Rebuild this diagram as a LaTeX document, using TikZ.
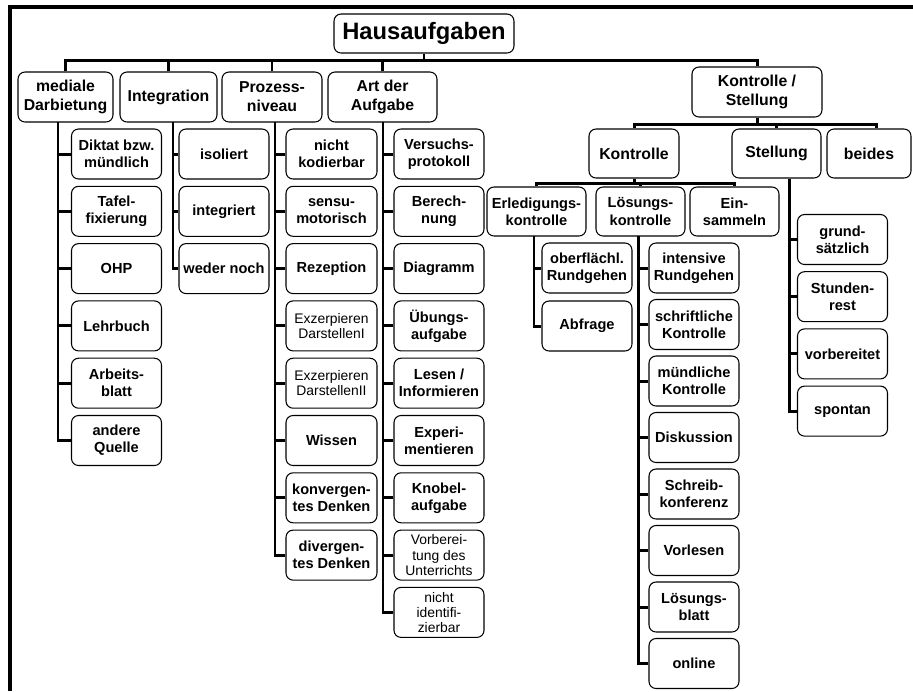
\documentclass[tikz,border=0pt]{standalone}
\usepackage{fontspec}
\setmainfont{Liberation Sans}
\tikzset{
  box/.style={draw, rounded corners=4pt, line width=0.6pt, align=center, inner sep=1pt, minimum height=1cm},
  head/.style={box, font={\fontsize{9}{10.8}\selectfont\bfseries}},
  leaf/.style={box, minimum width=1.8cm, font={\fontsize{8.3}{9.7}\selectfont\bfseries}},
  leafthin/.style={box, minimum width=1.8cm, font={\fontsize{7.9}{8.6}\selectfont}},
  conn/.style={line width=1.7pt},
}
\begin{document}
\begin{tikzpicture}[x=0.02cm, y=-0.02cm]
  \useasboundingbox (0,0) rectangle (913,691);
  % Rahmen
  \draw[line width=2pt] (10,691) -- (10,7) -- (913,7);
  % Wurzel
  \node[box, minimum width=3.6cm, minimum height=0.78cm, font={\fontsize{13.5}{16}\selectfont\bfseries}] (root) at (424,33.5) {Hausaufgaben};
  % erste Ebene
  \node[head, minimum width=1.9cm] (med) at (65.5,97) {mediale\\Darbietung};
  \node[head, minimum width=1.94cm] (integ) at (168.5,97) {Integration};
  \node[head, minimum width=2cm] (proz) at (272,97) {Prozess-\\niveau};
  \node[head, minimum width=2.18cm] (art) at (382.5,97) {Art der\\Aufgabe};
  \node[head, minimum width=2.6cm] (kst) at (757,92) {Kontrolle /\\Stellung};
  % zweite Ebene
  \node[head, minimum width=1.8cm, minimum height=0.98cm] (kon) at (634,153.5) {Kontrolle};
  \node[head, minimum width=1.78cm, minimum height=0.98cm] (stel) at (776.5,153.5) {Stellung};
  \node[head, minimum width=1.68cm, minimum height=0.98cm] (beid) at (869,153.5) {beides};
  % dritte Ebene
  \node[leaf, minimum width=1.98cm, minimum height=0.98cm] (erl) at (536.5,211.5) {Erledigungs-\\kontrolle};
  \node[leaf, minimum width=1.78cm, minimum height=0.98cm] (loes) at (640.5,211.5) {Lösungs-\\kontrolle};
  \node[leaf, minimum width=1.78cm, minimum height=0.98cm] (eins) at (734.5,211.5) {Ein-\\sammeln};
  % mediale Darbietung
  \node[leaf] (m1) at (116.5,154) {Diktat bzw.\\mündlich};
  \node[leaf] (m2) at (116.5,211.3) {Tafel-\\fixierung};
  \node[leaf] (m3) at (116.5,268.6) {OHP};
  \node[leaf] (m4) at (116.5,325.9) {Lehrbuch};
  \node[leaf] (m5) at (116.5,383.2) {Arbeits-\\blatt};
  \node[leaf] (m6) at (116.5,440.5) {andere\\Quelle};
  % Integration
  \node[leaf] (i1) at (224,154) {isoliert};
  \node[leaf] (i2) at (224,211.3) {integriert};
  \node[leaf] (i3) at (224,268.6) {weder noch};
  % Prozessniveau
  \node[leaf, minimum width=1.82cm] (p1) at (331.5,154) {nicht\\kodierbar};
  \node[leaf, minimum width=1.82cm] (p2) at (331.5,211.3) {sensu-\\motorisch};
  \node[leaf, minimum width=1.82cm] (p3) at (331.5,268.6) {Rezeption};
  \node[leafthin, minimum width=1.82cm] (p4) at (331.5,325.9) {Exzerpieren\\DarstellenI};
  \node[leafthin, minimum width=1.82cm] (p5) at (331.5,383.2) {Exzerpieren\\DarstellenII};
  \node[leaf, minimum width=1.82cm] (p6) at (331.5,440.5) {Wissen};
  \node[leaf, minimum width=1.82cm] (p7) at (331.5,497.8) {konvergen-\\tes Denken};
  \node[leaf, minimum width=1.82cm] (p8) at (331.5,555.1) {divergen-\\tes Denken};
  % Art der Aufgabe
  \node[leaf] (a1) at (439,154) {Versuchs-\\protokoll};
  \node[leaf] (a2) at (439,211.3) {Berech-\\nung};
  \node[leaf] (a3) at (439,268.6) {Diagramm};
  \node[leaf] (a4) at (439,325.9) {Übungs-\\aufgabe};
  \node[leaf] (a5) at (439,383.2) {Lesen /\\Informieren};
  \node[leaf] (a6) at (439,440.5) {Experi-\\mentieren};
  \node[leaf] (a7) at (439,497.8) {Knobel-\\aufgabe};
  \node[leafthin] (a8) at (439,555.1) {Vorberei-\\tung des\\Unterrichts};
  \node[leafthin] (a9) at (439,612.4) {nicht\\identifi-\\zierbar};
  % Erledigungskontrolle
  \node[leaf] (e1) at (587,268) {oberflächl.\\Rundgehen};
  \node[leaf] (e2) at (587,326) {Abfrage};
  % Lösungskontrolle
  \node[leaf] (l1) at (694,268) {intensive\\Rundgehen};
  \node[leaf] (l2) at (694,324.5) {schriftliche\\Kontrolle};
  \node[leaf] (l3) at (694,381) {mündliche\\Kontrolle};
  \node[leaf] (l4) at (694,437.5) {Diskussion};
  \node[leaf] (l5) at (694,494) {Schreib-\\konferenz};
  \node[leaf] (l6) at (694,550.5) {Vorlesen};
  \node[leaf] (l7) at (694,607) {Lösungs-\\blatt};
  \node[leaf] (l8) at (694,663.5) {online};
  % Stellung
  \node[leaf] (s1) at (842.5,239.5) {grund-\\sätzlich};
  \node[leaf] (s2) at (842.5,296.7) {Stunden-\\rest};
  \node[leaf] (s3) at (842.5,353.9) {vorbereitet};
  \node[leaf] (s4) at (842.5,411.1) {spontan};

  % Verbindungen oben
  \coordinate (b) at (0,60);
  \draw[conn] (root) -- (root |- b);
  \draw[conn] (med) -- (med |- b) -- (kst |- b) -- (kst);
  \draw[conn] (integ) -- (integ |- b);
  \draw[conn] (proz) -- (proz |- b);
  \draw[conn] (art) -- (art |- b);
  % Kontrolle / Stellung
  \coordinate (kb) at (0,124.5);
  \coordinate (kb2) at (876,124.5);
  \draw[conn] (kst) -- (kst |- kb);
  \draw[conn] (kon) -- (kon |- kb) -- (kb2) -- (kb2 |- beid.north);
  \draw[conn] (stel) -- (stel |- kb);
  % Kontrolle
  \coordinate (lb) at (0,183);
  \draw[conn] (kon) -- (kon |- lb);
  \draw[conn] (erl) -- (erl |- lb) -- (eins |- lb) -- (eins);
  \draw[conn] (loes) -- (loes |- lb);

  % Spalten
  \coordinate (mv) at (58,122);
  \draw[conn] (mv) |- (m6) (m1) -- (m1 -| mv) (m2) -- (m2 -| mv) (m3) -- (m3 -| mv)
    (m4) -- (m4 -| mv) (m5) -- (m5 -| mv);
  \coordinate (iv) at (173,122);
  \draw[conn] (iv) |- (i3) (i1) -- (i1 -| iv) (i2) -- (i2 -| iv);
  \coordinate (pv) at (275,122);
  \draw[conn] (pv) |- (p8) (p1) -- (p1 -| pv) (p2) -- (p2 -| pv) (p3) -- (p3 -| pv)
    (p4) -- (p4 -| pv) (p5) -- (p5 -| pv) (p6) -- (p6 -| pv) (p7) -- (p7 -| pv);
  \coordinate (av) at (383,122);
  \draw[conn] (av) |- (a9) (a1) -- (a1 -| av) (a2) -- (a2 -| av) (a3) -- (a3 -| av)
    (a4) -- (a4 -| av) (a5) -- (a5 -| av) (a6) -- (a6 -| av) (a7) -- (a7 -| av)
    (a8) -- (a8 -| av);
  \coordinate (ev) at (534,236);
  \draw[conn] (ev) |- (e2) (e1) -- (e1 -| ev);
  \coordinate (lv) at (638,236);
  \draw[conn] (lv) |- (l8) (l1) -- (l1 -| lv) (l2) -- (l2 -| lv) (l3) -- (l3 -| lv)
    (l4) -- (l4 -| lv) (l5) -- (l5 -| lv) (l6) -- (l6 -| lv) (l7) -- (l7 -| lv);
  \coordinate (sv) at (789,178.5);
  \draw[conn] (sv) |- (s4) (s1) -- (s1 -| sv) (s2) -- (s2 -| sv) (s3) -- (s3 -| sv);
\end{tikzpicture}
\end{document}
